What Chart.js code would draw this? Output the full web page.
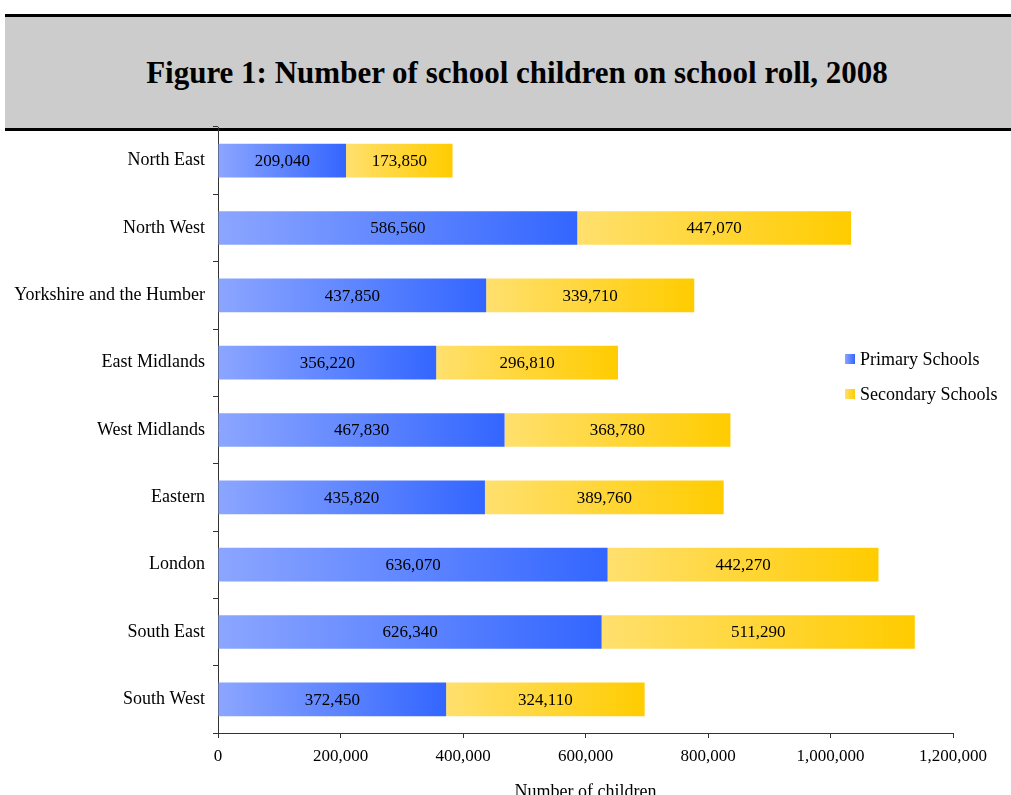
<!DOCTYPE html>
<html>
<head>
<meta charset="utf-8">
<title>Number of school children on school roll, 2008</title>
<script src="https://cdn.jsdelivr.net/npm/chart.js@4.4.1/dist/chart.umd.min.js"></script>
<style>
  html, body { margin: 0; padding: 0; background: #fff; overflow: hidden; }
  #banner {
    position: absolute; left: 5px; top: 14px; width: 988px; height: 111px;
    padding-left: 18px;
    background: #cccccc; border-top: 3px solid #000; border-bottom: 3px solid #000;
    display: flex; align-items: center; justify-content: center;
    font-family: "Liberation Serif", serif; font-weight: bold; font-size: 31px; color: #000;
  }
  #chart { position: absolute; left: 0; top: 0; }
</style>
</head>
<body>
<div id="banner">Figure 1: Number of school children on school roll, 2008</div>
<canvas id="chart" width="1011" height="805"></canvas>
<script>
const regions = ['North East', 'North West', 'Yorkshire and the Humber', 'East Midlands',
  'West Midlands', 'Eastern', 'London', 'South East', 'South West'];
const primarySchools = [209040, 586560, 437850, 356220, 467830, 435820, 636070, 626340, 372450];
const secondarySchools = [173850, 447070, 339710, 296810, 368780, 389760, 442270, 511290, 324110];

const FONT = '"Liberation Serif", "Times New Roman", serif';
const blueFade = ['#8ca6ff', '#3366ff'];
const goldFade = ['#ffe06e', '#ffcc00'];

const fmt = v => v.toLocaleString('en-GB');

// each segment gets its own left-to-right gradient
function segmentFill(colors, startAt) {
  return ctx => {
    const x = ctx.chart.scales.x;
    if (ctx.type !== 'data' || !x) return colors[1];
    const i = ctx.dataIndex;
    const from = x.getPixelForValue(startAt(i));
    const to = x.getPixelForValue(startAt(i) + ctx.dataset.data[i]);
    if (!isFinite(from) || !isFinite(to) || from === to) return colors[1];
    const g = ctx.chart.ctx.createLinearGradient(from, 0, to, 0);
    g.addColorStop(0, colors[0]);
    g.addColorStop(1, colors[1]);
    return g;
  };
}

const barLabels = {
  id: 'barLabels',
  afterDatasetsDraw(chart) {
    const c = chart.ctx;
    c.save();
    c.font = '17px ' + FONT;
    c.fillStyle = '#000';
    c.textAlign = 'center';
    c.textBaseline = 'middle';
    chart.data.datasets.forEach((ds, d) => {
      chart.getDatasetMeta(d).data.forEach((bar, i) => {
        const p = bar.getProps(['x', 'base', 'y'], true);
        c.fillText(fmt(ds.data[i]), (p.x + p.base) / 2, p.y + 1);
      });
    });
    c.restore();
  }
};

// small legend sitting inside the plot, right side
const sideLegend = {
  id: 'sideLegend',
  afterDraw(chart) {
    const c = chart.ctx;
    const fades = [blueFade, goldFade];
    const left = chart.chartArea.right - 108;
    let top = 354;
    c.save();
    c.font = '18px ' + FONT;
    c.textBaseline = 'middle';
    chart.data.datasets.forEach((ds, d) => {
      const g = c.createLinearGradient(left, 0, left + 10, 0);
      g.addColorStop(0, fades[d][0]);
      g.addColorStop(1, fades[d][1]);
      c.fillStyle = g;
      c.fillRect(left, top, 10, 10);
      c.fillStyle = '#000';
      c.fillText(ds.label, left + 15, top + 6);
      top += 35;
    });
    c.restore();
  }
};

new Chart(document.getElementById('chart'), {
  type: 'bar',
  data: {
    labels: regions,
    datasets: [{
      label: 'Primary Schools',
      data: primarySchools,
      backgroundColor: segmentFill(blueFade, () => 0)
    }, {
      label: 'Secondary Schools',
      data: secondarySchools,
      backgroundColor: segmentFill(goldFade, i => primarySchools[i])
    }]
  },
  options: {
    indexAxis: 'y',
    responsive: false,
    animation: false,
    categoryPercentage: 1,
    barPercentage: 0.5,
    layout: { padding: { top: 127, right: 58, bottom: 0, left: 0 } },
    plugins: {
      legend: { display: false },
      tooltip: { enabled: false }
    },
    scales: {
      x: {
        stacked: true,
        min: 0,
        max: 1200000,
        afterFit: s => { s.height = 72; },
        ticks: {
          stepSize: 200000,
          padding: 8,
          color: '#000',
          font: { family: FONT, size: 17 },
          callback: v => fmt(v)
        },
        grid: { drawOnChartArea: false, tickLength: 5, color: '#333' },
        border: { color: '#333' },
        title: {
          display: true,
          text: 'Number of children',
          color: '#000',
          font: { family: FONT, size: 18 },
          padding: { top: 0, bottom: 2 }
        }
      },
      y: {
        stacked: true,
        afterFit: s => { s.width = 218; },
        ticks: {
          padding: 8,
          color: '#000',
          font: { family: FONT, size: 18 }
        },
        grid: { drawOnChartArea: false, tickLength: 5, offset: true, color: '#333' },
        border: { color: '#333' }
      }
    }
  },
  plugins: [barLabels, sideLegend]
});
</script>
</body>
</html>
